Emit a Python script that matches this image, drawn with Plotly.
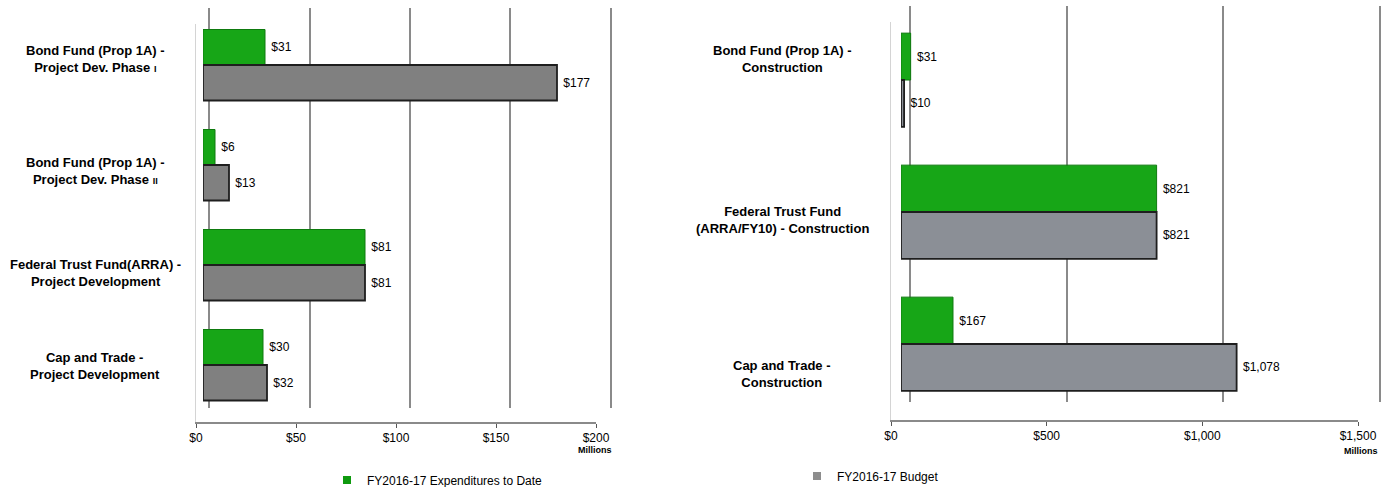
import plotly.graph_objects as go

# ---------------- data ----------------
cats_left = [
    "Bond Fund (Prop 1A) -<br>Project Dev. Phase <span style='font-size:9px'>I</span>",
    "Bond Fund (Prop 1A) -<br>Project Dev. Phase <span style='font-size:9px'>II</span>",
    "Federal Trust Fund(ARRA) -<br>Project Development",
    "Cap and Trade -<br>Project Development",
]
exp_left = [31, 6, 81, 30]
bud_left = [177, 13, 81, 32]

cats_right = [
    "Bond Fund (Prop 1A) -<br>Construction",
    "Federal Trust Fund<br>(ARRA/FY10) - Construction",
    "Cap and Trade -<br>Construction",
]
exp_right = [31, 821, 167]
bud_right = [10, 821, 1078]

ticks_left = [0, 50, 100, 150, 200]
ticks_right = [0, 500, 1000, 1500]
tick_text_left = ["$0", "$50", "$100", "$150", "$200"]
tick_text_right = ["$0", "$500", "$1,000", "$1,500"]
range_left = [0, 200]
range_right = [0, 1500]

series_names = ["FY2016-17 Expenditures to Date", "FY2016-17 Budget"]

# ---------------- styles / layout ----------------
GREEN = "#17a617"
GREEN_EDGE = "#0e7a0e"
GRAY_L = "#808080"
GRAY_R = "#8b8f96"
GRAY_EDGE = "#1e1e1e"
GRID = "#8a8a8a"
FONT = "Liberation Sans, Arial, sans-serif"
W, H = 1389, 487

# vertical shift of each category label relative to its bar group (in category units)
label_shift_left = [-0.06, 0.06, 0.08, 0.01]
label_shift_right = [-0.16, 0.06, 0.23]


def px_x(a, b):
    return [a / W, b / W]


def px_y(top, bottom):
    return [(H - bottom) / H, (H - top) / H]


fig = go.Figure()

idx_left = list(range(len(cats_left)))
idx_right = list(range(len(cats_right)))

# empty traces so that the decoration subplots (back grid wall / front tick axis) are drawn
for xa, ya in [("x", "y"), ("x2", "y2"), ("x5", "y5"), ("x6", "y6")]:
    fig.add_trace(go.Scatter(x=[], y=[], xaxis=xa, yaxis=ya, showlegend=False, hoverinfo="skip"))


def bar(y, x, name, color, edge, ew, xa, ya):
    return go.Bar(
        y=y, x=x, orientation="h", name=name,
        marker=dict(color=color, line=dict(color=edge, width=ew)),
        texttemplate=" $%{x:,}", textposition="outside", cliponaxis=False,
        textfont=dict(size=12, color="#000", family=FONT),
        xaxis=xa, yaxis=ya, showlegend=False,
    )


fig.add_trace(bar(idx_left, exp_left, series_names[0], GREEN, GREEN_EDGE, 1, "x3", "y3"))
fig.add_trace(bar(idx_left, bud_left, series_names[1], GRAY_L, GRAY_EDGE, 1.8, "x3", "y3"))
fig.add_trace(bar(idx_right, exp_right, series_names[0], GREEN, GREEN_EDGE, 1, "x4", "y4"))
fig.add_trace(bar(idx_right, bud_right, series_names[1], GRAY_R, GRAY_EDGE, 1.8, "x4", "y4"))

# legend entries (small square keys)
fig.add_trace(go.Scatter(x=[None], y=[None], mode="markers", name=series_names[0],
                         marker=dict(symbol="square", size=8, color="#0f9a0f"),
                         xaxis="x5", yaxis="y5", legend="legend", showlegend=True))
fig.add_trace(go.Scatter(x=[None], y=[None], mode="markers", name=series_names[1],
                         marker=dict(symbol="square", size=8, color="#8d8d8d"),
                         xaxis="x6", yaxis="y6", legend="legend2", showlegend=True))

grid_axis = dict(showgrid=True, gridcolor=GRID, gridwidth=1.5, showline=False,
                 showticklabels=False, ticks="", zeroline=False, fixedrange=True)
wall_y = dict(range=[0, 1], showgrid=False, zeroline=False, showticklabels=False, ticks="",
              showline=True, mirror=True, linecolor=GRID, linewidth=1.5, fixedrange=True)
bar_x = dict(visible=False, showgrid=False, zeroline=False, fixedrange=True)
bar_y = dict(visible=False, autorange="reversed", fixedrange=True)
front_x = dict(showgrid=False, showline=True, linecolor=GRID, linewidth=1.5,
               ticks="outside", ticklen=4, tickcolor="#555", zeroline=False, fixedrange=True,
               tickfont=dict(size=12, color="#000", family=FONT))
front_y = dict(range=[0, 1], showgrid=False, zeroline=False, showticklabels=False, ticks="",
               showline=True, linecolor="#d4d4d4", linewidth=1, fixedrange=True)

fig.update_layout(
    width=W, height=H,
    margin=dict(l=0, r=0, t=0, b=0, autoexpand=False),
    paper_bgcolor="white", plot_bgcolor="rgba(0,0,0,0)",
    font=dict(family=FONT, size=12, color="#000"),
    barmode="group", bargap=0.29, bargroupgap=0.0,
    # back wall grids
    xaxis=dict(domain=px_x(210, 610), range=range_left, tickvals=ticks_left, anchor="y", **grid_axis),
    yaxis=dict(domain=px_y(8, 408), anchor="x", **wall_y),
    xaxis2=dict(domain=px_x(911, 1379), range=range_right, tickvals=ticks_right, anchor="y2", **grid_axis),
    yaxis2=dict(domain=px_y(6, 402), anchor="x2", **wall_y),
    # bars (mid depth)
    xaxis3=dict(domain=px_x(203, 603), range=range_left, anchor="y3", **bar_x),
    yaxis3=dict(domain=px_y(15, 415), anchor="x3", **bar_y),
    xaxis4=dict(domain=px_x(901, 1368), range=range_right, anchor="y4", **bar_x),
    yaxis4=dict(domain=px_y(14, 410), anchor="x4", **bar_y),
    # front axes with ticks
    xaxis5=dict(domain=px_x(196, 596), range=range_left, tickvals=ticks_left,
                ticktext=tick_text_left, anchor="y5", **front_x),
    yaxis5=dict(domain=px_y(24, 422), anchor="x5", **front_y),
    xaxis6=dict(domain=px_x(891, 1358), range=range_right, tickvals=ticks_right,
                ticktext=tick_text_right, anchor="y6", **front_x),
    yaxis6=dict(domain=px_y(22, 420), anchor="x6", **front_y),
    legend=dict(x=327 / W, y=(H - 480) / H, xanchor="left", yanchor="middle",
                orientation="h", font=dict(size=12, family=FONT), bgcolor="rgba(0,0,0,0)",
                itemwidth=30),
    legend2=dict(x=797 / W, y=(H - 476) / H, xanchor="left", yanchor="middle",
                 orientation="h", font=dict(size=12, family=FONT), bgcolor="rgba(0,0,0,0)",
                 itemwidth=30),
)

annotations = []
for i, c in enumerate(cats_left):
    annotations.append(dict(
        text=c, x=95 / W, xref="paper", y=i + label_shift_left[i], yref="y3",
        xanchor="center", yanchor="middle", showarrow=False, align="center",
        font=dict(size=13, family=FONT, color="#000", weight="bold"),
    ))
for i, c in enumerate(cats_right):
    annotations.append(dict(
        text=c, x=782 / W, xref="paper", y=i + label_shift_right[i], yref="y4",
        xanchor="center", yanchor="middle", showarrow=False, align="center",
        font=dict(size=13, family=FONT, color="#000", weight="bold"),
    ))
annotations.append(dict(text="<b>Millions</b>", x=614 / W, y=(H - 450) / H, xref="paper", yref="paper",
                        xanchor="right", yanchor="middle", showarrow=False,
                        font=dict(size=9, family=FONT, color="#000")))
annotations.append(dict(text="<b>Millions</b>", x=1380 / W, y=(H - 451) / H, xref="paper", yref="paper",
                        xanchor="right", yanchor="middle", showarrow=False,
                        font=dict(size=9, family=FONT, color="#000")))
fig.update_layout(annotations=annotations)

fig.write_html("out.html")
